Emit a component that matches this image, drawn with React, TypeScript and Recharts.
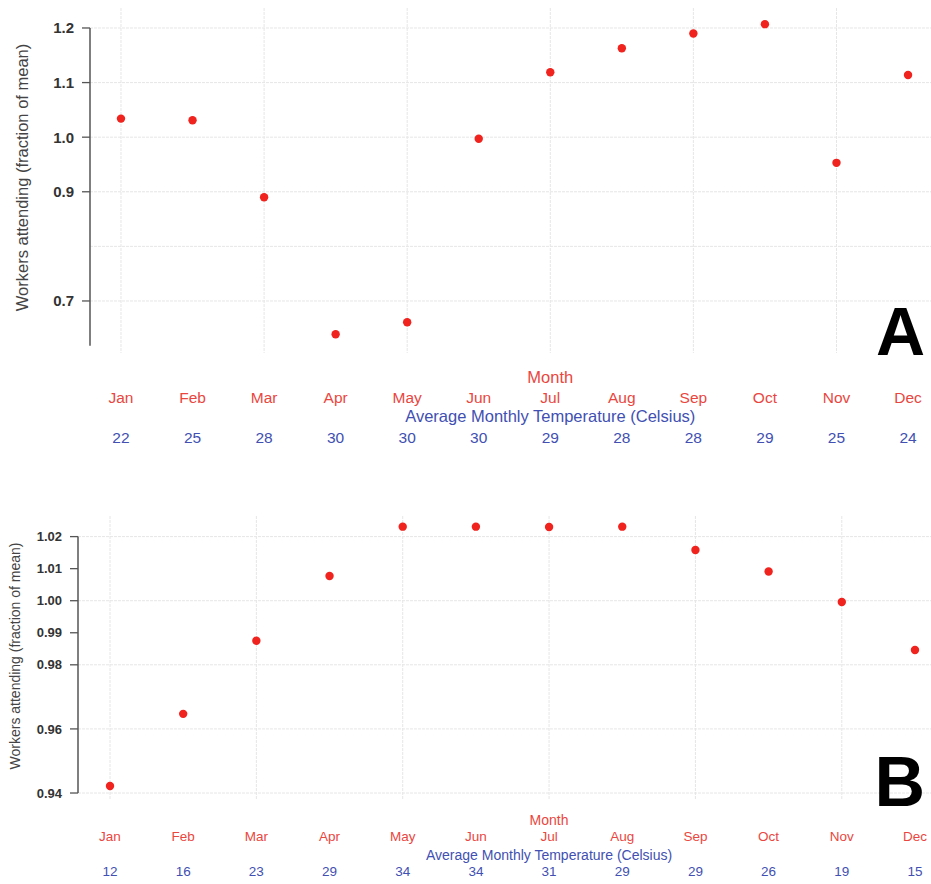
import React from 'react';
import {
  ScatterChart,
  Scatter,
  XAxis,
  YAxis,
  CartesianGrid,
  ReferenceLine,
  Label,
} from 'recharts';

// ---------- data ----------
const months = [1, 2, 3, 4, 5, 6, 7, 8, 9, 10, 11, 12];
const monthLabels = ['Jan', 'Feb', 'Mar', 'Apr', 'May', 'Jun', 'Jul', 'Aug', 'Sep', 'Oct', 'Nov', 'Dec'];

const tempsA = [22, 25, 28, 30, 30, 30, 29, 28, 28, 29, 25, 24];
const attendanceA = [1.034, 1.031, 0.89, 0.639, 0.661, 0.997, 1.119, 1.163, 1.19, 1.207, 0.953, 1.114];
const yTicksA = [0.7, 0.9, 1.0, 1.1, 1.2];
const yGridA = [0.7, 0.8, 0.9, 1.0, 1.1, 1.2];

const tempsB = [12, 16, 23, 29, 34, 34, 31, 29, 29, 26, 19, 15];
const attendanceB = [0.9422, 0.9647, 0.9875, 1.0077, 1.0231, 1.0231, 1.023, 1.0231, 1.0158, 1.0091, 0.9996, 0.9846];
const yTicksB = [0.94, 0.96, 0.98, 0.99, 1.0, 1.01, 1.02];
const yGridB = [0.94, 0.96, 0.98, 1.0, 1.02];

const xGrid = [1, 3, 5, 7, 9, 11];

const dataA = months.map((m, i) => ({ m, v: attendanceA[i] }));
const dataB = months.map((m, i) => ({ m, v: attendanceB[i] }));

// ---------- styles ----------
const FONT = '"Liberation Sans", Arial, Helvetica, sans-serif';
const RED = '#ea4640';
const BLUE = '#4150b2';
const DOT = '#f0231e';
const GRID = '#e6e6e6';
const AXIS = '#555555';

const Dot = (p: any) => <circle cx={p.cx} cy={p.cy} r={4.2} fill={DOT} />;

type TickCfg = {
  temps: number[];
  fs: number;
  titleFs: number;
  monthTitleDy: number;
  monthDy: number;
  tempTitleDy: number;
  tempDy: number;
};

const makeXTick = (cfg: TickCfg) => (props: any) => {
  const { x, y, payload } = props;
  const i = months.indexOf(payload.value);
  return (
    <g fontFamily={FONT}>
      <text x={x} y={y + cfg.monthDy} textAnchor="middle" fill={RED} fontSize={cfg.fs}>
        {monthLabels[i]}
      </text>
      <text x={x} y={y + cfg.tempDy} textAnchor="middle" fill={BLUE} fontSize={cfg.fs}>
        {cfg.temps[i]}
      </text>
      {payload.value === 7 && (
        <>
          <text x={x} y={y + cfg.monthTitleDy} textAnchor="middle" fill={RED} fontSize={cfg.titleFs}>
            Month
          </text>
          <text x={x} y={y + cfg.tempTitleDy} textAnchor="middle" fill={BLUE} fontSize={cfg.titleFs}>
            Average Monthly Temperature (Celsius)
          </text>
        </>
      )}
    </g>
  );
};

const yLabel = (dx: number, fs: number, dy: number) => (props: any) => {
  const vb = props.viewBox;
  const cx = vb.x + dx;
  const cy = vb.y + vb.height / 2 + dy;
  return (
    <text
      x={cx}
      y={cy}
      transform={`rotate(-90, ${cx}, ${cy})`}
      textAnchor="middle"
      dominantBaseline="central"
      fill="#444"
      fontSize={fs}
      fontFamily={FONT}
    >
      Workers attending (fraction of mean)
    </text>
  );
};

// panel A geometry
const xDomA: [number, number] = [0.567, 12.321];
const yDomA: [number, number] = [0.6047, 1.2366];
// panel B geometry
const xDomB: [number, number] = [0.5627, 12.219];
const yDomB: [number, number] = [0.93782, 1.02643];

export default function App() {
  return (
    <div style={{ position: 'absolute', left: 0, top: 0, width: 931, height: 884, background: '#fff' }}>
      <ScatterChart width={931} height={460} margin={{ top: 8, right: 0, bottom: 0, left: 0 }}>
        <CartesianGrid
          stroke={GRID}
          strokeDasharray="3 1"
          horizontalValues={yGridA}
          verticalValues={xGrid}
        />
        <XAxis
          type="number"
          dataKey="m"
          domain={xDomA}
          ticks={months}
          interval={0}
          height={107}
          axisLine={false}
          tickLine={false}
          tickSize={0}
          tickMargin={0}
          allowDataOverflow
          tick={makeXTick({
            temps: tempsA,
            fs: 15.5,
            titleFs: 16.5,
            monthTitleDy: 30,
            monthDy: 50,
            tempTitleDy: 69,
            tempDy: 90,
          })}
        />
        <YAxis
          type="number"
          dataKey="v"
          domain={yDomA}
          ticks={yTicksA}
          interval={0}
          width={90}
          allowDataOverflow
          axisLine={false}
          tickLine={{ stroke: AXIS, strokeWidth: 1.3 }}
          tickSize={8}
          tickMargin={8}
          tickFormatter={(v: number) => v.toFixed(1)}
          tick={{ fill: '#333', fontSize: 15, fontWeight: 'bold', fontFamily: FONT }}
        >
          <Label content={yLabel(22, 16.5, -3)} />
        </YAxis>
        <ReferenceLine
          segment={[
            { x: xDomA[0], y: 0.618 },
            { x: xDomA[0], y: 1.2 },
          ]}
          stroke={AXIS}
          strokeWidth={1.5}
          ifOverflow="visible"
        />
        <Scatter data={dataA} dataKey="v" shape={Dot} isAnimationActive={false} />
      </ScatterChart>

      <ScatterChart width={931} height={424} margin={{ top: 56, right: 0, bottom: 0, left: 0 }}>
        <CartesianGrid
          stroke={GRID}
          strokeDasharray="3 1"
          horizontalValues={yGridB}
          verticalValues={xGrid}
        />
        <XAxis
          type="number"
          dataKey="m"
          domain={xDomB}
          ticks={months}
          interval={0}
          height={84}
          axisLine={false}
          tickLine={false}
          tickSize={0}
          tickMargin={0}
          allowDataOverflow
          tick={makeXTick({
            temps: tempsB,
            fs: 13.5,
            titleFs: 14,
            monthTitleDy: 25,
            monthDy: 41,
            tempTitleDy: 60,
            tempDy: 76,
          })}
        />
        <YAxis
          type="number"
          dataKey="v"
          domain={yDomB}
          ticks={yTicksB}
          interval={0}
          width={78}
          allowDataOverflow
          axisLine={false}
          tickLine={{ stroke: AXIS, strokeWidth: 1.3 }}
          tickSize={8}
          tickMargin={8}
          tickFormatter={(v: number) => v.toFixed(2)}
          tick={{ fill: '#333', fontSize: 13, fontWeight: 'bold', fontFamily: FONT }}
        >
          <Label content={yLabel(15, 14, -2)} />
        </YAxis>
        <ReferenceLine
          segment={[
            { x: xDomB[0], y: 0.94 },
            { x: xDomB[0], y: 1.02 },
          ]}
          stroke={AXIS}
          strokeWidth={1.5}
          ifOverflow="visible"
        />
        <Scatter data={dataB} dataKey="v" shape={Dot} isAnimationActive={false} />
      </ScatterChart>

      <svg
        width={931}
        height={884}
        style={{ position: 'absolute', left: 0, top: 0, pointerEvents: 'none' }}
      >
        <text x={925} y={355} textAnchor="end" fontFamily={FONT} fontWeight="bold" fontSize={68} fill="#000">
          A
        </text>
        <text x={925} y={806} textAnchor="end" fontFamily={FONT} fontWeight="bold" fontSize={70} fill="#000">
          B
        </text>
      </svg>
    </div>
  );
}
